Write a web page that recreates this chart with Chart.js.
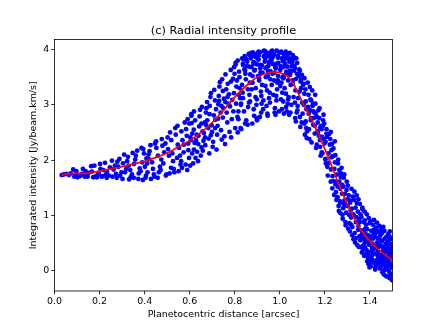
<!DOCTYPE html>
<html>
<head>
  <title>Radial intensity profile</title>
  <script src="https://cdn.jsdelivr.net/npm/chart.js"></script>
  <style>body { margin: 0; background: #fff; } canvas { display: block; }</style>
</head>
<body>
  <canvas id="profileChart" width="436" height="327"></canvas>

  <script>
    const xTickValues = [0, 0.2, 0.4, 0.6, 0.8, 1.0, 1.2, 1.4];
    const yTickValues = [0, 1, 2, 3, 4];

    // Fitted profile (red line)
    const fitDistance = [0.03, 0.05, 0.08, 0.12, 0.16, 0.2, 0.25, 0.3, 0.35, 0.4, 0.45, 0.5, 0.55, 0.6, 0.65, 0.7, 0.75, 0.8, 0.85, 0.9, 0.95, 0.98, 1.0, 1.03, 1.06, 1.1, 1.14, 1.18, 1.22, 1.26, 1.3, 1.34, 1.38, 1.42, 1.46, 1.49, 1.5];
    const fitIntensity = [1.72, 1.75, 1.76, 1.76, 1.77, 1.8, 1.84, 1.88, 1.93, 1.98, 2.05, 2.13, 2.24, 2.35, 2.5, 2.68, 2.9, 3.14, 3.34, 3.5, 3.58, 3.59, 3.58, 3.53, 3.38, 3.05, 2.74, 2.39, 2.0, 1.58, 1.2, 0.87, 0.63, 0.45, 0.31, 0.22, 0.2];

    // Measured points, split into distance bands
    const bandAx = [.032,.041,.053,.064,.072,.083,.088,.094,.102,.097,.113,.121,.126,.134,.143,.138,.152,.147,.163,.172,.166,.184,.177,.193,.188,.204,.197,.209];
    const bandAy = [1.73,1.74,1.75,1.73,1.76,1.83,1.70,1.74,1.69,1.80,1.71,1.75,1.84,1.70,1.73,1.80,1.77,1.70,1.89,1.69,1.79,1.71,1.90,1.74,1.69,1.84,1.77,1.70];

    const bandBx = [.202,.214,.217,.229,.224,.232,.233,.246,.255,.241,.257,.268,.262,.279,.273,.288,.276,.283,.297,.309,.291,.304,.302,.318,.326,.313,.322,.338,.329,.347,.331,.336,.358,.344,.353,.352,.367,.378,.361,.374,.386,.372,.389,.382,.397,.408,.392,.401,.394,.406];
    const bandBy = [1.93,1.71,1.82,1.74,1.95,1.68,1.79,1.87,1.99,1.72,1.70,1.90,1.83,1.97,1.75,2.02,1.68,1.88,1.78,2.10,1.72,1.94,1.66,1.84,2.06,1.78,1.98,1.69,1.90,2.13,1.65,1.82,2.01,1.74,1.93,1.68,2.17,1.85,2.08,1.76,2.22,1.66,1.96,1.80,2.12,2.03,1.64,1.88,2.20,1.72];

    const bandCx = [.404,.417,.411,.426,.413,.419,.437,.422,.428,.446,.433,.441,.459,.444,.452,.468,.451,.463,.474,.458,.479,.487,.471,.476,.483,.497,.492,.508,.494,.502,.517,.504,.513,.526,.511,.518,.536,.523,.529,.547,.532,.538,.544,.559,.546,.553,.568,.551,.557,.563,.578,.562,.574,.566,.587,.573,.582,.591,.597,.584,.593,.589,.608,.594,.602,.611,.598,.605];
    const bandCy = [1.68,2.10,1.94,2.27,1.78,2.02,1.84,2.16,1.66,2.30,1.96,1.74,2.08,1.70,2.22,1.88,2.34,1.78,2.01,1.68,2.26,2.14,1.82,2.38,1.94,1.74,2.30,2.08,1.72,2.41,1.86,2.20,2.50,1.98,1.76,2.36,2.58,2.12,1.84,2.28,1.78,2.46,2.04,1.92,2.62,2.22,2.36,1.80,2.08,2.52,2.68,1.98,2.28,1.86,2.44,2.14,1.92,2.74,2.04,2.56,2.30,1.82,2.80,2.18,1.90,2.48,2.66,2.36];

    const bandDx = [
      .603,.611,.607,.618,.615,.622,.609,.626,.619,.631,
      .624,.637,.628,.642,.633,.646,.639,.652,.644,.657,
      .649,.661,.654,.667,.658,.672,.663,.677,.669,.682,
      .674,.687,.678,.692,.684,.697,.689,.702,.694,.707,
      .699,.712,.704,.717,.709,.722,.714,.727,.719,.732,
      .724,.737,.729,.742,.734,.747,.739,.752,.744,.757,
      .749,.762,.754,.767,.759,.772,.764,.777,.769,.782,
      .774,.787,.779,.792,.784,.797,.789,.802,.794,.807,
      .799,.812,.804,.747,.731,.713,.694,.673,.652,.768,
      .783,.796,.758,.741,.726,.688,.668,.638,.619,.806];
    const bandDy = [
      2.41,2.12,2.83,2.55,1.94,2.31,2.67,2.04,2.88,2.46,
      2.72,1.98,2.36,2.61,2.15,2.91,2.44,2.23,2.79,2.52,
      2.08,2.35,2.96,2.68,2.17,2.86,2.49,3.05,2.27,2.58,
      2.94,2.12,2.72,3.14,2.39,2.63,2.98,2.24,3.21,2.81,
      2.51,3.08,2.33,2.92,3.27,2.46,2.73,3.01,2.19,3.33,
      2.62,2.86,3.16,2.37,3.41,2.77,2.54,3.11,3.46,2.29,
      2.94,3.28,2.43,2.68,3.55,3.02,2.86,2.51,3.38,3.63,
      3.19,2.74,2.97,3.47,2.41,3.68,3.09,2.58,2.88,3.33,
      3.56,2.78,3.73,3.25,3.07,2.58,2.45,2.63,2.66,3.14,
      3.42,3.21,3.05,2.98,2.75,2.83,2.41,2.29,2.19,3.02];

    const bandEx = [.813,.804,.818,.809,.816,.826,.813,.819,.828,.822,.816,.837,.824,.829,.821,.833,.846,.832,.838,.827,.843,.835,.857,.844,.849,.841,.853,.836,.866,.851,.858,.847,.863,.855,.878,.862,.867,.859,.874,.865,.871,.886,.873,.879,.868,.883,.875,.897,.881,.887,.892,.879,.894,.884,.906,.893,.899,.888,.903,.896,.891,.917,.902,.908,.913,.898,.905,.928,.911,.916,.923,.907,.919,.914,.937,.921,.926,.933,.918,.929,.946,.931,.938,.942,.927,.935,.943,.957,.941,.948,.953,.936,.945,.951,.966,.952,.958,.949,.963,.955,.977,.961,.967,.972,.956,.964,.969,.986,.971,.978,.982,.968,.975,.997,.981,.988,.993,.976,.985,.991,1.006,.989,.996,1.003,.984,1.009,.992];
    const bandEy = [2.50,3.76,3.18,3.44,2.88,2.58,3.80,3.60,3.02,3.30,2.74,3.72,3.12,2.56,3.50,3.84,2.66,3.36,3.82,3.00,3.64,3.22,2.64,3.88,3.46,2.88,3.70,3.12,3.90,2.72,3.28,3.56,3.04,3.78,2.66,3.92,3.40,2.96,3.68,3.18,3.84,2.80,3.94,3.52,3.06,3.74,3.28,2.76,3.95,3.62,3.14,3.40,3.86,2.92,3.96,3.30,2.72,3.76,3.52,3.00,3.88,2.86,3.94,3.44,3.66,3.10,3.82,3.97,2.78,3.24,3.58,3.90,3.02,3.72,3.96,3.36,2.92,3.78,3.16,3.88,2.80,3.98,3.50,3.68,3.08,3.84,3.26,3.94,2.98,3.60,3.76,3.34,2.84,3.88,3.98,3.12,3.46,3.70,3.82,3.22,2.86,3.96,3.56,3.90,3.04,3.36,3.74,3.98,3.18,2.94,3.66,3.86,3.44,3.94,2.82,3.28,3.76,3.58,3.08,3.88,3.96,3.40,2.88,3.70,3.16,3.84,3.52];

    // Dense clump around the top of the peak
    const bandTx = [
      .836,.851,.864,.872,.883,.891,.905,.912,.921,.934,
      .942,.953,.961,.974,.983,.992,1.004,1.013,1.021,1.034,
      1.043,1.052,.868,.889,.914,.937,.958,.979,1.002,1.028,
      .846,.908,.947,.991,1.016,1.047,1.063,1.072,.899,.966];
    const bandTy = [
      3.74,3.83,3.69,3.88,3.77,3.91,3.82,3.95,3.71,3.89,
      3.93,3.78,3.86,3.92,3.74,3.85,3.95,3.79,3.88,3.69,
      3.84,3.76,3.55,3.63,3.58,3.66,3.61,3.69,3.63,3.56,
      3.62,3.48,3.52,3.44,3.48,3.58,3.62,3.47,3.73,3.75];

    const bandFx = [1.017,1.002,1.009,1.014,1.005,1.019,1.012,1.026,1.011,1.018,1.023,1.007,1.029,1.015,1.036,1.021,1.028,1.033,1.017,1.039,1.024,1.044,1.031,1.037,1.046,1.027,1.042,1.035,1.057,1.041,1.048,1.053,1.037,1.059,1.045,1.062,1.051,1.058,1.066,1.047,1.069,1.055,1.073,1.061,1.068,1.076,1.057,1.079,1.065,1.077,1.071,1.088,1.083,1.067,1.086,1.075,1.089,1.081,1.097,1.092,1.078,1.094,1.085,1.098,1.091,1.106,1.103,1.089,1.109,1.095,1.109,1.101,1.117,1.113,1.099,1.106,1.115,1.124,1.111,1.118,1.127,1.109,1.115,1.133,1.121,1.128,1.136,1.119,1.125,1.138,1.144,1.131,1.138,1.147,1.129,1.135,1.157,1.141,1.148,1.153,1.139,1.155,1.145,1.164,1.151,1.158,1.167,1.149,1.155,1.176,1.161,1.168,1.173,1.159,1.178,1.165,1.186,1.171,1.178,1.183,1.169,1.175,1.194,1.181,1.188,1.197,1.179,1.185,1.192,1.204,1.191,1.198,1.207,1.189,1.195,1.202];
    const bandFy = [3.92,3.34,2.92,3.68,3.10,3.80,3.50,3.96,3.22,2.84,3.74,3.40,3.60,3.06,3.92,3.30,2.96,3.84,3.52,3.14,3.70,3.94,2.88,3.44,3.62,3.20,3.78,3.02,3.90,2.82,3.36,3.70,3.10,3.82,3.54,3.86,3.00,3.44,3.66,2.86,3.26,3.76,3.84,3.14,2.76,3.56,3.38,2.98,3.70,3.76,2.70,3.24,3.52,3.04,3.64,2.86,3.62,3.12,2.68,3.42,2.90,3.30,3.56,3.54,2.60,3.00,3.36,2.78,3.20,3.46,3.48,2.84,2.58,3.28,3.04,3.38,2.70,3.40,2.46,2.92,3.18,2.66,3.06,3.32,2.52,2.84,3.10,2.40,2.96,2.72,3.26,2.38,2.76,3.02,2.56,2.90,3.18,2.32,2.64,2.86,3.08,2.48,2.98,2.28,2.76,3.02,2.52,2.88,2.62,2.94,2.22,2.68,2.44,2.84,2.58,2.78,2.14,2.90,2.36,2.62,2.50,2.76,2.82,2.08,2.42,2.66,2.24,2.56,2.72,1.94,2.62,2.30,2.48,2.12,2.38,2.02];

    const bandGx = [
      1.203,1.211,1.207,1.216,1.202,1.219,1.213,1.222,1.209,1.226,
      1.218,1.229,1.224,1.233,1.227,1.236,1.231,1.241,1.234,1.244,
      1.238,1.247,1.242,1.251,1.246,1.254,1.249,1.258,1.252,1.261,
      1.256,1.264,1.259,1.268,1.262,1.271,1.266,1.274,1.269,1.277,
      1.272,1.281,1.276,1.284,1.279,1.287,1.282,1.291,1.286,1.294,
      1.289,1.297,1.292,1.301,1.296,1.304,1.299,1.307,1.302,1.311,
      1.306,1.314,1.309,1.318,1.312,1.321,1.316,1.324,1.319,1.327,
      1.322,1.331,1.326,1.334,1.329,1.337,1.332,1.341,1.336,1.344,
      1.339,1.347,1.342,1.351,1.346,1.354,1.349,1.257,1.283,1.311,
      1.226,1.238,1.244,1.268,1.293,1.317,1.338,1.264,1.229,1.278];
    const bandGy = [
      2.33,1.88,2.56,2.12,2.01,2.47,1.72,2.28,2.42,1.61,
      1.95,2.18,2.38,1.49,1.83,2.07,2.29,1.37,1.71,1.96,
      2.21,1.56,1.84,1.28,2.09,1.74,1.42,1.94,1.61,1.17,
      1.33,1.82,2.01,1.48,1.08,1.69,1.26,1.86,1.04,1.55,
      1.76,1.13,1.39,1.68,.94,1.27,1.52,.88,1.74,1.05,
      1.39,1.61,.82,1.17,1.46,.76,1.29,1.01,1.54,.71,
      1.36,1.09,.86,1.48,1.23,.64,.96,1.34,1.12,.57,
      .79,1.43,1.02,.51,1.28,.88,.68,1.36,1.14,.46,
      .97,.74,1.22,.43,1.07,.88,1.29,1.52,1.21,1.27,
      2.51,1.62,2.34,1.23,1.18,.83,.59,1.61,2.05,1.01];

    const bandHx = [
      1.353,1.358,1.361,1.349,1.366,1.357,1.363,1.352,1.369,1.355,
      1.371,1.364,1.376,1.368,1.373,1.379,1.362,1.374,1.381,1.367,
      1.384,1.377,1.389,1.372,1.386,1.391,1.378,1.383,1.394,1.388,
      1.396,1.382,1.399,1.392,1.387,1.403,1.395,1.401,1.385,1.398,
      1.406,1.393,1.409,1.402,1.397,1.412,1.404,1.416,1.408,1.411,
      1.414,1.407,1.419,1.413,1.422,1.417,1.405,1.424,1.418,1.426,
      1.421,1.429,1.415,1.427,1.432,1.423,1.434,1.428,1.436,1.431,
      1.439,1.433,1.441,1.437,1.444,1.435,1.447,1.442,1.438,1.449,
      1.446,1.452,1.443,1.455,1.451,1.448,1.457,1.453,1.459,1.456,
      1.461,1.454,1.463,1.458,1.466,1.462,1.468,1.465,1.471,1.464,
      1.469,1.473,1.467,1.476,1.472,1.478,1.474,1.481,1.477,1.483,
      1.479,1.486,1.482,1.488,1.484,1.491,1.487,1.493,1.489,1.495,
      1.492,1.497,1.494,1.499,1.496,1.485,1.498,1.475,1.488,1.493,
      1.443,1.456,1.47,1.482,1.49,1.426,1.412,1.398,1.378,1.364,
      1.428,1.436,1.447,1.459,1.468,1.474,1.479,1.486,1.494,1.499];
    const bandHy = [
      .62,1.02,.43,.81,1.14,.55,.73,.94,.38,1.21,
      .88,.33,1.07,.59,.47,.76,.97,.27,.66,1.11,
      .31,.91,.52,.71,1.02,.23,.42,.83,.64,.17,
      .47,.58,.86,.34,.75,.16,.95,.61,.37,.27,
      .72,.12,.41,.89,.54,.29,.08,.66,.21,.49,
      .83,.35,.14,.58,.44,.74,.24,.06,.92,.31,
      .63,.19,.38,.78,.51,.02,.27,.69,.11,.87,
      .43,.59,.22,.72,.04,.34,.56,.81,.15,.28,
      .64,.09,.46,-.03,.75,.19,.37,.53,.79,.12,
      .26,.68,.01,.44,.58,-.07,.33,.17,.49,.72,
      .07,.61,.39,.13,-.1,.52,.24,.66,.02,.31,
      .43,-.13,.18,.56,.09,.36,.62,-.06,.27,.48,
      .13,-.17,.58,.22,.05,-.02,.41,.47,.71,.31,
      .69,.29,.21,.35,-.09,.11,.18,.06,.53,.66,
      .41,.32,.13,.23,.11,.36,.15,.28,.4,.08];

    const distance = [].concat(bandAx, bandBx, bandCx, bandDx, bandEx, bandTx, bandFx, bandGx, bandHx);
    const intensity = [].concat(bandAy, bandBy, bandCy, bandDy, bandEy, bandTy, bandFy, bandGy, bandHy);

    const fontFamily = '"DejaVu Sans"';

    // matplotlib style frame, thin line on all four sides
    const framePlugin = {
      id: 'frame',
      afterDatasetsDraw(chart) {
        const a = chart.chartArea;
        const ctx = chart.ctx;
        ctx.save();
        ctx.strokeStyle = '#000';
        ctx.lineWidth = 0.8;
        ctx.strokeRect(a.left, a.top, a.right - a.left, a.bottom - a.top);
        ctx.restore();
      }
    };

    const ctx = document.getElementById('profileChart').getContext('2d');
    new Chart(ctx, {
      type: 'scatter',
      data: {
        datasets: [
          {
            label: 'Fit',
            type: 'line',
            data: fitDistance.map((d, i) => ({ x: d, y: fitIntensity[i] })),
            borderColor: '#ff0000',
            borderWidth: 1.7,
            pointRadius: 0,
            cubicInterpolationMode: 'monotone',
            fill: false,
            order: 1,
          },
          {
            label: 'Data',
            data: distance.map((d, i) => ({ x: d, y: intensity[i] })),
            backgroundColor: '#0000ff',
            borderWidth: 0,
            pointRadius: 2.4,
            order: 2,
          },
        ],
      },
      options: {
        responsive: false,
        animation: false,
        layout: { padding: { left: 0, right: 43.5, top: 0, bottom: 0 } },
        plugins: {
          legend: { display: false },
          tooltip: { enabled: false },
          title: {
            display: true,
            fullSize: false,
            text: '(c) Radial intensity profile',
            color: '#000',
            font: { family: fontFamily, size: 11.3, weight: 'normal' },
            padding: { top: 24, bottom: 2 },
          },
        },
        scales: {
          x: {
            type: 'linear',
            min: 0,
            max: 1.5,
            afterFit(scale) { scale.height = 36; },
            afterBuildTicks(scale) { scale.ticks = xTickValues.map(v => ({ value: v })); },
            border: { display: false },
            grid: { drawOnChartArea: false, tickLength: 3.3, tickWidth: 0.8, tickColor: '#000' },
            ticks: {
              color: '#000',
              font: { family: fontFamily, size: 9.45 },
              padding: 1.5,
              maxRotation: 0,
              autoSkip: false,
              callback: v => v.toFixed(1),
            },
            title: {
              display: true,
              text: 'Planetocentric distance [arcsec]',
              color: '#000',
              font: { family: fontFamily, size: 9.45 },
              padding: { top: 1, bottom: 7 },
            },
          },
          y: {
            type: 'linear',
            min: -0.367,
            max: 4.18,
            afterFit(scale) { scale.width = 54.5; },
            afterBuildTicks(scale) { scale.ticks = yTickValues.map(v => ({ value: v })); },
            border: { display: false },
            grid: { drawOnChartArea: false, tickLength: 3.3, tickWidth: 0.8, tickColor: '#000' },
            ticks: {
              color: '#000',
              font: { family: fontFamily, size: 9.45 },
              padding: 2,
              autoSkip: false,
              callback: v => String(v),
            },
            title: {
              display: true,
              text: 'Integrated intensity [Jy/beam.km/s]',
              color: '#000',
              font: { family: fontFamily, size: 9.45 },
              padding: { top: 28, bottom: 0 },
            },
          },
        },
      },
      plugins: [framePlugin],
    });
  </script>
</body>
</html>
